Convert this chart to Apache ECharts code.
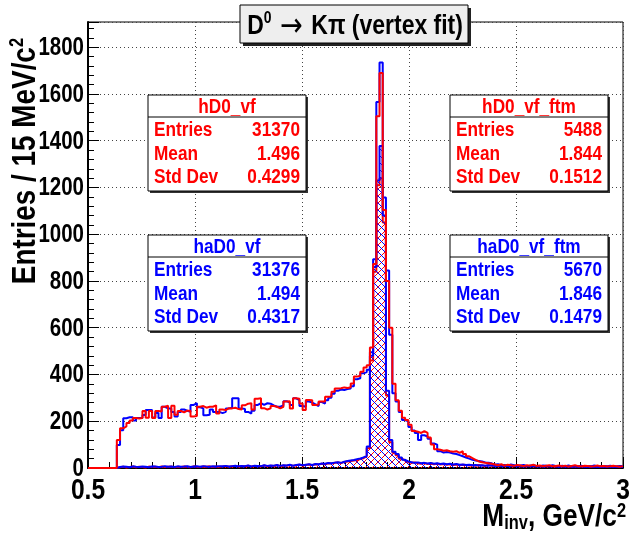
<!DOCTYPE html>
<html><head><meta charset="utf-8">
<script src="https://cdn.jsdelivr.net/npm/echarts@6/dist/echarts.min.js"></script>
<style>html,body{margin:0;padding:0;background:#fff}#c{width:630px;height:534px}</style>
</head><body><div id="c"></div>
<script>
// ---- axis / binning ----
const X_MIN = 0.5, X_MAX = 3.0, N_BINS = 167;
const Y_MIN = 0, Y_MAX = 1908, Y_STEP = 200, X_STEP = 0.5;
const X_TICK_LABELS = ['0.5', '1', '1.5', '2', '2.5', '3'];
const Y_TICK_LABELS = ['0', '200', '400', '600', '800', '1000', '1200', '1400', '1600', '1800'];

// ---- histogram contents (entries per bin) ----
const hD0_vf = [
  0,0,0,0,0,0,0,0,0,
  120,170,178,192,203,214,212,214,244,215,244,214,244,242,262,266,214,266,228,244,238,
  245,245,220,222,262,265,258,262,262,268,233,250,248,256,255,258,252,250,268,275,277,250,296,298,256,250,255,265,262,255,
  262,284,286,255,298,296,276,248,291,290,270,272,285,284,305,306,326,340,341,345,342,345,362,391,395,412,430,440,515,
  873,1505,1690,1104,800,600,360,290,245,215,205,
  185,158,155,150,158,150,130,100,80,78,74,76,72,
  70,72,65,72,60,50,42,35,28,25,22,20,18,
  15,12,16,10,14,12,9,13,11,8,12,10,14,9,11,8,10,12,7,9,11,8,10,6,9,12,8,7,10,9,6,8,11,7,9,6,8,10,7,5,8
];
const haD0_vf = [
  0,0,0,0,0,0,0,0,0,
  98,162,213,217,217,203,214,214,227,248,248,216,235,214,262,255,255,240,220,240,250,
  245,240,270,277,260,255,226,228,250,240,240,235,240,255,258,298,298,255,252,240,233,245,270,277,270,277,275,268,262,262,
  268,286,280,270,298,290,265,262,284,280,272,265,282,276,290,300,318,330,336,334,338,340,350,380,384,405,410,420,495,
  893,1566,1735,1157,845,570,320,285,240,205,200,
  175,160,150,120,140,135,125,105,100,72,66,68,66,
  62,60,55,50,45,40,35,32,30,28,24,22,20,
  14,16,11,13,10,15,12,9,11,13,8,10,12,9,7,11,10,8,12,9,6,10,8,11,7,9,8,10,6,9,7,11,8,6,9,7,10,8,6,9,7
];
const hD0_vf_ftm = [
  0,0,0,0,0,0,0,0,0,
  3,5,2,4,6,3,5,4,2,6,4,5,3,7,4,5,6,3,5,4,6,5,3,7,5,4,6,5,7,4,6,5,
  6,8,5,7,9,6,8,7,10,6,9,8,7,11,8,10,9,12,8,11,10,13,9,12,14,11,13,15,12,16,
  15,18,16,20,19,22,24,21,26,28,30,32,34,38,42,50,85,
  460,840,1210,1240,1050,310,110,65,55,40,32,25,
  22,24,20,18,21,17,19,16,18,15,17,14,16,13,15,12,14,13,11,12,10,13,11,9,12,10,11,9,10,8,11,9,8,10,7,9,8,10,7,8,9,6,8,7,9,6,8,7,6,8,5,7,6,8,5,7,6,5,7,4,6,5,7,4,6,5,4
];
const haD0_vf_ftm = [
  0,0,0,0,0,0,0,0,0,
  4,6,5,3,7,5,4,6,5,3,7,6,4,5,8,5,6,4,7,5,6,8,4,6,7,5,8,6,5,7,6,8,
  7,9,6,8,10,7,9,8,11,7,10,9,8,12,9,11,10,13,9,12,11,14,10,13,15,12,14,16,13,17,
  16,19,18,21,20,23,25,22,27,30,32,34,38,41,45,52,92,
  480,860,1230,1377,1080,330,120,70,60,45,35,28,
  25,22,24,20,22,19,21,18,20,17,19,16,18,15,17,14,15,13,14,12,13,11,12,10,12,11,10,9,11,10,9,8,10,9,8,9,7,8,9,7,8,6,8,7,8,6,7,6,7,5,7,6,5,7,5,6,5,6,4,6,5,4,6,5,4,5,4
];

// ---- statistics boxes text ----
const statLabels = ['Entries', 'Mean', 'Std Dev'];
const stats_hD0_vf = ['31370', '1.496', '0.4299'];
const stats_hD0_vf_ftm = ['5488', '1.844', '0.1512'];
const stats_haD0_vf = ['31376', '1.494', '0.4317'];
const stats_haD0_vf_ftm = ['5670', '1.846', '0.1479'];

const BIN_W = (X_MAX - X_MIN) / N_BINS;
const FONT = "'Liberation Sans', Arial, sans-serif";
const NK = 0.82; // horizontal squeeze giving the narrow Helvetica look
const RED = '#ff0000', BLUE = '#0000ff';

function toSteps(vals) {
  const pts = vals.map((v, k) => [X_MIN + k * BIN_W, v]);
  pts.push([X_MIN + vals.length * BIN_W, vals[vals.length - 1]]);
  return pts;
}
function hatch(color, dir) {
  const c = document.createElement('canvas');
  c.width = 7; c.height = 7;
  const g = c.getContext('2d');
  g.strokeStyle = color; g.lineWidth = 1;
  g.beginPath();
  if (dir > 0) { g.moveTo(-1, 8); g.lineTo(8, -1); g.moveTo(-2, 1); g.lineTo(1, -2); g.moveTo(6, 9); g.lineTo(9, 6); }
  else { g.moveTo(-1, -1); g.lineTo(8, 8); g.moveTo(6, -2); g.lineTo(9, 1); g.moveTo(-2, 6); g.lineTo(1, 9); }
  g.stroke();
  return c;
}
function txt(x, y, text, size, color, align, vAlign, extra) {
  return Object.assign({ type: 'text', x: x, y: y, scaleX: NK, z: 102,
    style: { text: text, fontFamily: FONT, fontWeight: 'bold', fontSize: size, fill: color, align: align, verticalAlign: vAlign } }, extra || {});
}
function statBox(x, y, title, values, color) {
  const w = 158, h = 96, th = 22;
  const children = [
    { type: 'rect', shape: { x: x + 2, y: y + 2, width: w, height: h }, style: { fill: '#333' } },
    { type: 'rect', shape: { x: x, y: y, width: w, height: h }, style: { fill: '#fff', stroke: '#000', lineWidth: 1 } },
    { type: 'line', shape: { x1: x, y1: y + th, x2: x + w, y2: y + th }, style: { stroke: '#000', lineWidth: 1 } },
    txt(x + w / 2, y + th / 2 + 1, title, 21, color, 'center', 'middle')
  ];
  statLabels.forEach((lab, i) => {
    const cy = y + 35.5 + i * 23.5;
    children.push(txt(x + 6, cy, lab, 21, color, 'left', 'middle'));
    children.push(txt(x + w - 6, cy, values[i], 21, color, 'right', 'middle'));
  });
  return { type: 'group', children: children, z: 100 };
}

const chart = echarts.init(document.getElementById('c'), null, { renderer: 'canvas' });
const axisCommon = {
  axisLine: { show: true, lineStyle: { color: '#000', width: 2 } },
  axisTick: { show: true, inside: true, length: 11, lineStyle: { color: '#000', width: 1 } },
  minorTick: { show: true, splitNumber: 5, length: 6, lineStyle: { color: '#000', width: 1 } },
  splitLine: { show: true, lineStyle: { color: '#444', width: 1, type: [1, 3] } },
  axisLabel: { show: false }
};
function histSeries(name, vals, color, z, hatchDir) {
  const s = {
    type: 'line', name: name, data: toSteps(vals), step: 'end', symbol: 'none',
    lineStyle: { color: color, width: 2 }, z: z, animation: false, silent: true
  };
  if (hatchDir) s.areaStyle = { color: { image: hatch(color, hatchDir), repeat: 'repeat' }, opacity: 1 };
  return s;
}
chart.setOption({
  backgroundColor: '#fff',
  animation: false,
  grid: { left: 88, top: 22, width: 535, height: 446, show: true, borderColor: '#000', borderWidth: 1, backgroundColor: '#fff' },
  xAxis: Object.assign({ type: 'value', min: X_MIN, max: X_MAX, interval: X_STEP }, axisCommon),
  yAxis: Object.assign({ type: 'value', min: Y_MIN, max: Y_MAX, interval: Y_STEP }, axisCommon),
  series: [
    histSeries('hD0_vf_ftm', hD0_vf_ftm, RED, 2, 1),
    histSeries('haD0_vf_ftm', haD0_vf_ftm, BLUE, 3, -1),
    histSeries('haD0_vf', haD0_vf, BLUE, 4, 0),
    histSeries('hD0_vf', hD0_vf, RED, 5, 0)
  ]
});

// tick labels placed through the chart's own axis scales
const graphics = [];
X_TICK_LABELS.forEach(t => {
  const p = chart.convertToPixel({ gridIndex: 0 }, [parseFloat(t), Y_MIN]);
  graphics.push(txt(p[0], p[1] + 8, t, 30, '#000', 'center', 'top'));
});
Y_TICK_LABELS.forEach(t => {
  const p = chart.convertToPixel({ gridIndex: 0 }, [X_MIN, parseFloat(t)]);
  graphics.push(txt(p[0] - 4, p[1] + 1, t, 25, '#000', 'right', 'middle'));
});
graphics.push(
  { type: 'rect', shape: { x: 243, y: 8, width: 228, height: 38 }, style: { fill: '#222' }, z: 100 },
  { type: 'rect', shape: { x: 240, y: 5, width: 228, height: 38 }, style: { fill: '#eeeeee', stroke: '#000', lineWidth: 1 }, z: 101 },
  { type: 'text', x: 355, y: 25, scaleX: NK, z: 102, style: {
      text: '{b|D}{sup|0}{arr| \u2192 }{b|K\u03c0 (vertex fit)}', align: 'center', verticalAlign: 'middle',
      rich: {
        b: { fontFamily: FONT, fontWeight: 'bold', fontSize: 28, lineHeight: 30, fill: '#000', verticalAlign: 'bottom' },
        sup: { fontFamily: FONT, fontWeight: 'bold', fontSize: 17, lineHeight: 30, fill: '#000', verticalAlign: 'top' },
        arr: { fontFamily: 'DejaVu Sans', fontSize: 33, lineHeight: 30, fill: '#000', verticalAlign: 'middle', padding: [4, 0, 0, 0] }
      } } },
  { type: 'text', x: 25, y: 38, rotation: Math.PI / 2, scaleX: NK, z: 102, style: {
      text: '{a|Entries / 15 MeV/c}{s|2}', align: 'right', verticalAlign: 'middle',
      rich: {
        a: { fontFamily: FONT, fontWeight: 'bold', fontSize: 34, lineHeight: 36, fill: '#000', verticalAlign: 'bottom' },
        s: { fontFamily: FONT, fontWeight: 'bold', fontSize: 20, lineHeight: 36, fill: '#000', verticalAlign: 'top' }
      } } },
  { type: 'text', x: 626, y: 517, scaleX: NK, z: 102, style: {
      text: '{a|M}{sub|inv}{a|, GeV/c}{sup|2}', align: 'right', verticalAlign: 'middle',
      rich: {
        a: { fontFamily: FONT, fontWeight: 'bold', fontSize: 32, lineHeight: 32, fill: '#000', verticalAlign: 'middle' },
        sub: { fontFamily: FONT, fontWeight: 'bold', fontSize: 20, lineHeight: 32, fill: '#000', verticalAlign: 'bottom', padding: [16, 0, 0, 0] },
        sup: { fontFamily: FONT, fontWeight: 'bold', fontSize: 20, lineHeight: 32, fill: '#000', verticalAlign: 'top', padding: [0, 0, 12, 0] }
      } } },
  statBox(148, 95, 'hD0_vf', stats_hD0_vf, RED),
  statBox(450, 95, 'hD0_vf_ftm', stats_hD0_vf_ftm, RED),
  statBox(148, 235, 'haD0_vf', stats_haD0_vf, BLUE),
  statBox(450, 235, 'haD0_vf_ftm', stats_haD0_vf_ftm, BLUE)
);
chart.setOption({ graphic: graphics });
</script></body></html>
